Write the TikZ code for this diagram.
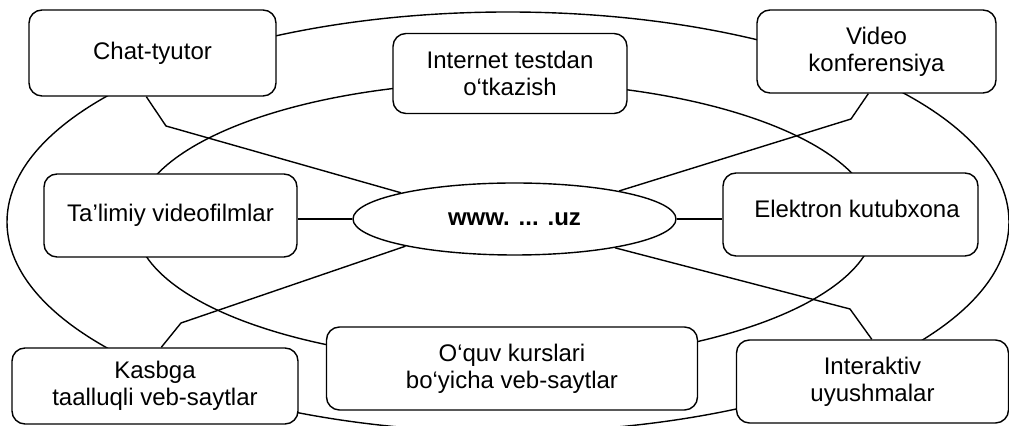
\documentclass[tikz,border=0pt]{standalone}
\usepackage{fontspec}
\setmainfont{Liberation Sans}
\usetikzlibrary{shapes.geometric,calc,backgrounds}
\begin{document}
\begin{tikzpicture}[x=0.5pt,y=-0.5pt,
  line width=0.7pt,
  box/.style={draw, rounded corners=6.5pt, fill=white, align=center, inner sep=0pt,
    font=\fontsize{12}{13.5}\selectfont},
  hub/.style={draw, ellipse, fill=white, inner sep=0pt, minimum width=161.5pt, minimum height=36pt,
    font=\fontsize{12}{13.5}\selectfont\bfseries},
  link/.style={draw, line width=0.7pt}]
\useasboundingbox (0,0) rectangle (1009,426);
% nodes
\node[box, minimum width=123.5pt, minimum height=43pt] (chat) at (152.5,53) {Chat-tyutor};
\node[box, minimum width=117pt, minimum height=40pt] (inet) at (510,73.5) {Internet testdan\\o‘tkazish};
\node[box, minimum width=119.5pt, minimum height=41.5pt] (video) at (876.5,51.5) {Video\\konferensiya};
\node[box, minimum width=126.5pt, minimum height=41.5pt] (tal) at (170.5,215.5) {Ta’limiy videofilmlar};
\node[box, minimum width=127.5pt, minimum height=41.5pt] (el) at (850.5,214.5) {\hspace*{6.5pt}\raisebox{5.5pt}{Elektron kutubxona}};
\node[box, minimum width=143pt, minimum height=38pt] (kas) at (155,386) {Kasbga\\taalluqli veb-saytlar};
\node[box, minimum width=185.5pt, minimum height=41.5pt] (oquv) at (512,368.5) {O‘quv kurslari\\bo‘yicha veb-saytlar};
\node[box, minimum width=136pt, minimum height=41.5pt] (inter) at (872.5,381.5) {Interaktiv\\uyushmalar};
\node[hub] (www) at (514.5,219) {www. ... .uz};
% knee points
\coordinate (k1) at (166,126);
\coordinate (k2) at (851,119);
\coordinate (k3) at (181,323);
\coordinate (k4) at (850,309);
% rings behind the boxes
\begin{scope}[on background layer]
  \clip (0,0) rectangle (1009,426);
  \draw[line width=0.7pt] (508,222) ellipse [x radius=250.5pt, y radius=105pt];
  \draw[line width=0.7pt] (505,222) ellipse [x radius=185pt, y radius=70pt];
\end{scope}
% connectors
\path[link] (www.west) -- (www.west -| tal.east);
\path[link] (www.east) -- (www.east -| el.west);
\path[link] ($(chat.south west)+(118,0)$) -- (k1) -- (www.167);
\path[link] ($(video.south west)+(112,0)$) -- (k2) -- (www.15);
\path[link] ($(kas.north west)+(150,0)$) -- (k3) -- (www.194);
\path[link] ($(inter.north west)+(136,0)$) -- (k4) -- (www.344);
\end{tikzpicture}
\end{document}
